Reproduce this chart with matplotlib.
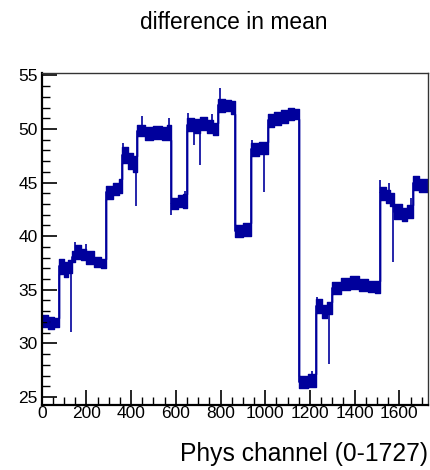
import matplotlib
matplotlib.use("Agg")
import matplotlib.pyplot as plt
import numpy as np

plt.rcParams["font.family"] = ["Liberation Sans", "DejaVu Sans"]

LINE_COLOR = "#00009c"

# band of the histogram per sub-range: first channel, lower and upper edge
seg_start = [0, 30, 55,
             76, 100, 118,
             136, 150, 175, 200, 235, 265,
             288, 320, 345,
             358, 385, 410,
             427, 460, 500, 540, 560,
             577, 610, 630,
             649, 680, 710, 740, 765,
             788, 820, 845,
             863, 900,
             937, 970,
             1011, 1040, 1070, 1100, 1130,
             1152, 1190,
             1226, 1255, 1275,
             1299, 1340, 1380, 1420, 1460, 1490,
             1512, 1540, 1560,
             1576, 1610, 1635,
             1660, 1690]
seg_lo = [31.5, 31.3, 31.5,
          36.5, 36.2, 36.6,
          37.6, 37.9, 37.8, 37.4, 37.1, 37.0,
          43.5, 43.8, 44.0,
          46.8, 46.3, 46.0,
          49.3, 49.0, 49.1, 49.0, 49.0,
          42.5, 42.7, 42.6,
          49.8, 49.6, 49.9, 49.6, 49.4,
          51.6, 51.7, 51.4,
          39.9, 40.0,
          47.5, 47.7,
          50.2, 50.4, 50.6, 50.8, 50.9,
          25.8, 25.9,
          32.8, 32.4, 32.7,
          34.6, 35.0, 35.1, 34.9, 34.8, 34.7,
          43.4, 43.1, 42.8,
          41.6, 41.4, 41.7,
          44.3, 44.1]
seg_hi = [32.6, 32.5, 32.4,
          37.9, 37.6, 37.8,
          38.6, 39.2, 38.8, 38.6, 38.1, 37.9,
          44.7, 45.0, 45.3,
          48.3, 47.8, 47.5,
          50.4, 50.2, 50.3, 50.2, 50.4,
          43.6, 43.8, 43.9,
          51.0, 50.9, 51.1, 50.8, 50.6,
          52.8, 52.7, 52.6,
          41.0, 41.2,
          48.7, 48.8,
          51.4, 51.6, 51.8, 52.0, 51.9,
          27.0, 27.1,
          34.1, 33.6, 33.9,
          35.7, 36.1, 36.3, 36.0, 35.8, 35.8,
          44.6, 44.3, 44.0,
          43.0, 42.6, 42.9,
          45.6, 45.3]
last_channel = 1728

# single channels sticking out of the band
spike_ch = [131, 150, 200, 362, 420, 450, 570, 580, 640, 655, 680, 708, 760,
            798, 940, 995, 1210, 1230, 1286, 1515, 1555, 1572, 1650]
spike_val = [31.1, 39.5, 39.3, 48.7, 42.8, 51.2, 51.0, 42.0, 44.2, 51.5, 48.5,
             46.6, 51.4, 53.8, 49.0, 44.1, 27.4, 34.3, 28.1, 45.2, 45.0, 37.6,
             43.6]

fig = plt.figure(figsize=(4.31, 4.70), dpi=100)
ax = fig.add_axes([0.0968, 0.1383, 0.8962, 0.707])

edges = np.array(seg_start + [last_channel], dtype=float)
lo = np.array(seg_lo + [seg_lo[-1]])
hi = np.array(seg_hi + [seg_hi[-1]])
mid = 0.5 * (lo + hi)

ax.fill_between(edges, lo, hi, step="post", facecolor=LINE_COLOR,
                edgecolor=LINE_COLOR, lw=1.0)
ax.step(edges, mid, where="post", color=LINE_COLOR, lw=1.2)

for ch, val in zip(spike_ch, spike_val):
    idx = np.searchsorted(edges, ch, side="right") - 1
    ax.vlines(ch, mid[idx], val, color=LINE_COLOR, lw=1.2)

ax.set_xlim(0, last_channel)
ax.set_ylim(24.25, 55.25)

ax.set_xticks(np.arange(0, 1601, 200))
ax.set_xticks(np.arange(0, 1728, 50), minor=True)
ax.set_yticks(np.arange(25, 56, 5))
ax.set_yticks(np.arange(25, 56, 1), minor=True)

ax.tick_params(axis="both", which="both", direction="in", top=False, right=False,
               labelsize=12.5, color="black")
ax.tick_params(axis="both", which="major", length=11, width=1.2)
ax.tick_params(axis="both", which="minor", length=6, width=1.0)
ax.tick_params(axis="x", pad=1)
ax.tick_params(axis="y", pad=3)

ax.spines["left"].set_linewidth(1.6)
ax.spines["bottom"].set_linewidth(1.6)
ax.spines["top"].set_linewidth(1.0)
ax.spines["right"].set_linewidth(1.0)
ax.spines["top"].set_color("#333333")
ax.spines["right"].set_color("#333333")

fig.text(0.543, 0.953, "difference in mean", ha="center", va="center",
         fontsize=16.4)
fig.text(0.993, 1 - 461 / 470, "Phys channel (0-1727)", ha="right", va="baseline",
         fontsize=17.7)

fig.savefig("out.png", dpi=100)
